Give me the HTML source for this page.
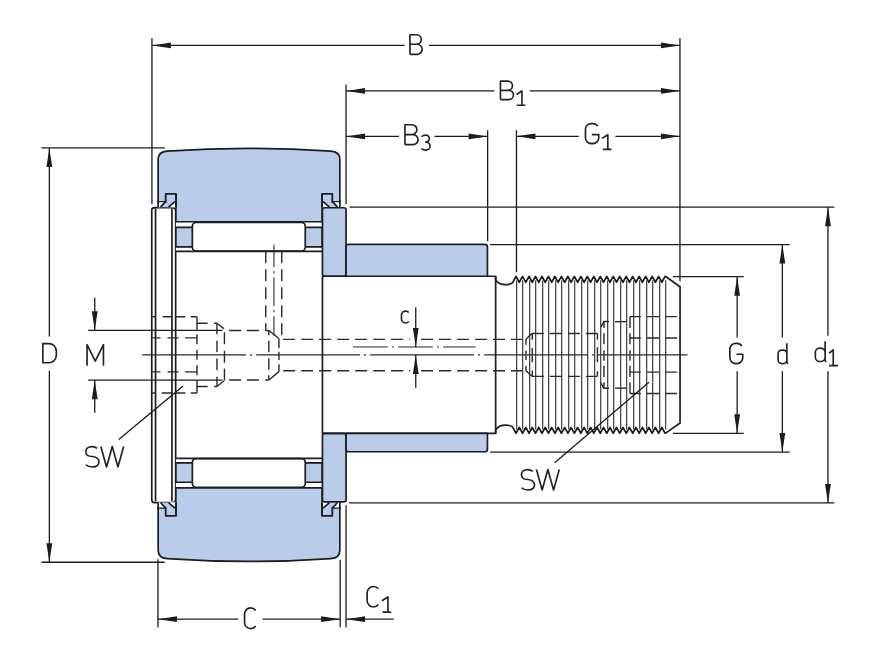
<!DOCTYPE html>
<html><head><meta charset="utf-8"><style>html,body{margin:0;padding:0;background:#fff;width:880px;height:668px;overflow:hidden}svg{display:block}</style></head>
<body>
<svg width="880" height="668" viewBox="0 0 880 668">
<style>
.o{stroke:#1a1d22;stroke-width:1.7;stroke-linejoin:round}
.dim{stroke:#1c1c1c;stroke-width:1.3}
.th{stroke:#4a4a4a;stroke-width:1.3}
.hid{stroke:#2a2a2a;stroke-width:1.4;fill:none;stroke-dasharray:12 6}
.chm{stroke:#2a2a2a;stroke-width:1.4;fill:none}
.cl{stroke:#2a2a2a;stroke-width:1.1;fill:none}
.gl path{fill:none;stroke:#222;stroke-width:1.65;stroke-linecap:butt;stroke-linejoin:round}
</style>
<rect width="880" height="668" fill="#fff"/>
<g transform="translate(0.15 0.25)">
<rect x="151.6" y="207.3" width="23.9" height="295.1" rx="2.8" ry="2.8" fill="#fff" class="o"/>
<line x1="155.4" y1="208" x2="155.4" y2="501" class="o"/>
<line x1="171.8" y1="208" x2="171.8" y2="501" class="o"/>
<g><rect x="175.7" y="222.3" width="146.3" height="28.8" fill="#fff" stroke="none"/>
<rect x="175.7" y="227.2" width="146.3" height="19.4" fill="#b9cce9" class="o"/>
<rect x="192.2" y="222.2" width="112.9" height="28.7" rx="3.8" ry="3.8" fill="#fff" class="o"/>
<line x1="175.4" y1="251.1" x2="322" y2="251.1" class="o"/>
<path class="o" fill="#b9cce9" d="M158,201.9 L158,159.5 C158,153.5 161,151.2 167,150.9 Q248.85,145.2 330.7,150.9 C336.7,151.2 339.7,153.5 339.7,159.5 L339.7,201.9 L332.1,201.9 L332.1,193.7 L322,193.7 L322,221.5 L175.7,221.5 L175.7,193.7 L165.6,193.7 L165.6,201.9 Z"/>
<path fill="#b9cce9" stroke="none" d="M322,193.7 L332.1,193.7 L332.1,201.9 L339.7,201.9 L339.7,207 L322,207 Z M175.7,193.7 L165.6,193.7 L165.6,201.9 L158,201.9 L158,207 L175.7,207 Z"/>
<path class="o" fill="none" d="M322,207 L322,193.7 L332.1,193.7 L332.1,201.9 L339.7,201.9 M175.7,207 L175.7,193.7 L165.6,193.7 L165.6,201.9 L158,201.9"/>
<path fill="#fff" stroke="none" d="M322,201.9 L323.6,201.9 L329.3,206.9 L322,206.9 Z M332.9,201.9 L339.7,201.9 L339.7,206.9 L337.3,206.9 Z"/>
<path class="o" fill="none" d="M322,201.9 L323.6,201.9 L329.3,206.9 M332.1,201.9 L332.9,201.9 L337.3,206.9 M322,193.7 L322,207 M339.7,200 L339.7,207"/>
<path fill="#fff" stroke="none" d="M175.7,201.9 L174.1,201.9 L168.4,206.9 L175.7,206.9 Z M164.8,201.9 L158,201.9 L158,206.9 L160.4,206.9 Z"/>
<path class="o" fill="none" d="M175.7,201.9 L174.1,201.9 L168.4,206.9 M165.6,201.9 L164.8,201.9 L160.4,206.9 M175.7,193.7 L175.7,207 M158,200 L158,207"/>
<rect x="322.3" y="207.5" width="23.6" height="68.5" rx="2.2" ry="2.2" fill="#b9cce9" class="o"/>
<path class="o" fill="none" d="M322,276 L495.5,276 L495.5,279.7 Q499,284.6 505.7,284.4 Q510.5,284.2 512.5,282.4 L515.9,276.2 L519.14,282 L522.38,276.2 L525.62,282 L528.86,276.2 L532.10,282 L535.34,276.2 L538.58,282 L541.82,276.2 L545.06,282 L548.30,276.2 L551.54,282 L554.78,276.2 L558.02,282 L561.26,276.2 L564.50,282 L567.74,276.2 L570.98,282 L574.22,276.2 L577.46,282 L580.70,276.2 L583.94,282 L587.18,276.2 L590.42,282 L593.66,276.2 L596.90,282 L600.14,276.2 L603.38,282 L606.62,276.2 L609.86,282 L613.10,276.2 L616.34,282 L619.58,276.2 L622.82,282 L626.06,276.2 L629.30,282 L632.54,276.2 L635.78,282 L639.02,276.2 L642.26,282 L645.50,276.2 L648.74,282 L651.98,276.2 L655.22,282 L658.46,276.2 L661.70,282 L664.94,276.2 L665.5,276.3 L679.9,286.5 L679.9,354.6"/></g>
<g transform="matrix(1 0 0 -1 0 709.2)"><rect x="175.7" y="222.3" width="146.3" height="28.8" fill="#fff" stroke="none"/>
<rect x="175.7" y="227.2" width="146.3" height="19.4" fill="#b9cce9" class="o"/>
<rect x="192.2" y="222.2" width="112.9" height="28.7" rx="3.8" ry="3.8" fill="#fff" class="o"/>
<line x1="175.4" y1="251.1" x2="322" y2="251.1" class="o"/>
<path class="o" fill="#b9cce9" d="M158,201.9 L158,159.5 C158,153.5 161,151.2 167,150.9 Q248.85,145.2 330.7,150.9 C336.7,151.2 339.7,153.5 339.7,159.5 L339.7,201.9 L332.1,201.9 L332.1,193.7 L322,193.7 L322,221.5 L175.7,221.5 L175.7,193.7 L165.6,193.7 L165.6,201.9 Z"/>
<path fill="#b9cce9" stroke="none" d="M322,193.7 L332.1,193.7 L332.1,201.9 L339.7,201.9 L339.7,207 L322,207 Z M175.7,193.7 L165.6,193.7 L165.6,201.9 L158,201.9 L158,207 L175.7,207 Z"/>
<path class="o" fill="none" d="M322,207 L322,193.7 L332.1,193.7 L332.1,201.9 L339.7,201.9 M175.7,207 L175.7,193.7 L165.6,193.7 L165.6,201.9 L158,201.9"/>
<path fill="#fff" stroke="none" d="M322,201.9 L323.6,201.9 L329.3,206.9 L322,206.9 Z M332.9,201.9 L339.7,201.9 L339.7,206.9 L337.3,206.9 Z"/>
<path class="o" fill="none" d="M322,201.9 L323.6,201.9 L329.3,206.9 M332.1,201.9 L332.9,201.9 L337.3,206.9 M322,193.7 L322,207 M339.7,200 L339.7,207"/>
<path fill="#fff" stroke="none" d="M175.7,201.9 L174.1,201.9 L168.4,206.9 L175.7,206.9 Z M164.8,201.9 L158,201.9 L158,206.9 L160.4,206.9 Z"/>
<path class="o" fill="none" d="M175.7,201.9 L174.1,201.9 L168.4,206.9 M165.6,201.9 L164.8,201.9 L160.4,206.9 M175.7,193.7 L175.7,207 M158,200 L158,207"/>
<rect x="322.3" y="207.5" width="23.6" height="68.5" rx="2.2" ry="2.2" fill="#b9cce9" class="o"/>
<path class="o" fill="none" d="M322,276 L495.5,276 L495.5,279.7 Q499,284.6 505.7,284.4 Q510.5,284.2 512.5,282.4 L515.9,276.2 L519.14,282 L522.38,276.2 L525.62,282 L528.86,276.2 L532.10,282 L535.34,276.2 L538.58,282 L541.82,276.2 L545.06,282 L548.30,276.2 L551.54,282 L554.78,276.2 L558.02,282 L561.26,276.2 L564.50,282 L567.74,276.2 L570.98,282 L574.22,276.2 L577.46,282 L580.70,276.2 L583.94,282 L587.18,276.2 L590.42,282 L593.66,276.2 L596.90,282 L600.14,276.2 L603.38,282 L606.62,276.2 L609.86,282 L613.10,276.2 L616.34,282 L619.58,276.2 L622.82,282 L626.06,276.2 L629.30,282 L632.54,276.2 L635.78,282 L639.02,276.2 L642.26,282 L645.50,276.2 L648.74,282 L651.98,276.2 L655.22,282 L658.46,276.2 L661.70,282 L664.94,276.2 L665.5,276.3 L679.9,286.5 L679.9,354.6"/></g>
<path class="o" fill="#b9cce9" d="M345.9,276 L345.9,246.4 Q345.9,244.2 348.1,244.2 L484.8,244.2 Q487.3,244.2 487.3,246.7 L487.3,276 Z"/>
<path class="o" fill="#b9cce9" d="M345.9,433.2 L345.9,449.2 Q345.9,451.5 348.1,451.5 L484.5,451.5 Q487.3,451.5 487.3,448.7 L487.3,433.2 Z"/>
<line x1="322.3" y1="276" x2="322.3" y2="433.2" class="o"/>
<line x1="495.5" y1="276" x2="495.5" y2="433.2" class="o"/>
<line x1="516.50" y1="280" x2="516.50" y2="429.2" class="th"/>
<line x1="522.50" y1="280" x2="522.50" y2="429.2" class="th"/>
<line x1="529.50" y1="280" x2="529.50" y2="429.2" class="th"/>
<line x1="535.50" y1="280" x2="535.50" y2="429.2" class="th"/>
<line x1="542.50" y1="280" x2="542.50" y2="429.2" class="th"/>
<line x1="548.50" y1="280" x2="548.50" y2="429.2" class="th"/>
<line x1="555.50" y1="280" x2="555.50" y2="429.2" class="th"/>
<line x1="561.50" y1="280" x2="561.50" y2="429.2" class="th"/>
<line x1="568.50" y1="280" x2="568.50" y2="429.2" class="th"/>
<line x1="574.50" y1="280" x2="574.50" y2="429.2" class="th"/>
<line x1="581.50" y1="280" x2="581.50" y2="429.2" class="th"/>
<line x1="587.50" y1="280" x2="587.50" y2="429.2" class="th"/>
<line x1="594.50" y1="280" x2="594.50" y2="429.2" class="th"/>
<line x1="600.50" y1="280" x2="600.50" y2="429.2" class="th"/>
<line x1="607.50" y1="280" x2="607.50" y2="429.2" class="th"/>
<line x1="613.50" y1="280" x2="613.50" y2="429.2" class="th"/>
<line x1="620.50" y1="280" x2="620.50" y2="429.2" class="th"/>
<line x1="626.50" y1="280" x2="626.50" y2="429.2" class="th"/>
<line x1="633.50" y1="280" x2="633.50" y2="429.2" class="th"/>
<line x1="639.50" y1="280" x2="639.50" y2="429.2" class="th"/>
<line x1="646.50" y1="280" x2="646.50" y2="429.2" class="th"/>
<line x1="652.50" y1="280" x2="652.50" y2="429.2" class="th"/>
<line x1="659.50" y1="280" x2="659.50" y2="429.2" class="th"/>
<line x1="665.50" y1="280" x2="665.50" y2="429.2" class="th"/>
<path class="chm" d="M152,316.5 L155.5,316.5 M162.5,316.5 L172,316.5 M175.3,316.5 L185.3,316.5 M190.7,316.5 L196.8,316.5 M152,392.7 L155.5,392.7 M161.6,392.7 L172,392.7 M175.3,392.7 L185.3,392.7 M190.7,392.7 L196.8,392.7 M152,337.6 L160.3,337.6 M167.3,337.6 L178.5,337.6 M184.8,337.6 L196.8,337.6 M152,371.6 L160.3,371.6 M167.3,371.6 L178.5,371.6 M184.8,371.6 L196.8,371.6 M196.8,316.5 L196.8,329.5 M196.8,334.1 L196.8,344.1 M196.8,349.8 L196.8,359.4 M196.8,365.1 L196.8,375.1 M196.8,379.7 L196.8,392.7 M196.8,323 L207.5,323 M213.9,323 L216.8,323 M196.8,386.2 L207.5,386.2 M213.9,386.2 L216.8,386.2 M216.8,323 L216.8,334.1 M216.8,340.5 L216.8,351.8 M216.8,358.2 L216.8,370 M216.8,376.4 L216.8,386.2 M224.3,332 L224.3,344.1 M224.3,350.4 L224.3,362.5 M224.3,368.2 L224.3,380.3 M228.9,330.2 L241,330.2 M246.7,330.2 L258.8,330.2 M265.1,330.2 L268.7,330.2 M228.9,379.8 L241,379.8 M246.7,379.8 L258.8,379.8 M265.1,379.8 L268.7,379.8 M268.7,330.2 L268.7,335 M268.7,340.5 L268.7,352 M268.7,358 L268.7,369.5 M268.7,375 L268.7,379.8 M278.8,338.3 L278.8,347.8 M278.8,351.4 L278.8,359.8 M278.8,364 L278.8,371.4"/>
<path class="hid" stroke-dashoffset="16.6" d="M281.6,339.1 L410,339.1 M281.6,370.5 L410,370.5"/>
<path class="hid" d="M420.9,339.1 L522.4,339.1"/>
<path class="hid" d="M420.9,370.5 L522.4,370.5"/>
<path class="hid" d="M265.6,251.1 L265.6,330.2"/>
<path class="hid" d="M281.6,251.1 L281.6,338.9"/>
<path class="chm" d="M525.8,339 L525.8,344.6 M525.8,350.3 L525.8,359.8 M525.8,365.5 L525.8,370.4"/>
<path class="hid" d="M531.8,333.3 L597.3,333.3"/>
<path class="hid" d="M531.8,376.1 L597.3,376.1"/>
<path class="chm" d="M532.1,333.3 L532.1,339.4 M532.1,347.7 L532.1,362 M532.1,370.2 L532.1,376.1"/>
<path class="chm" d="M597.3,333.3 L597.3,339.4 M597.3,347 L597.3,362.1 M597.3,370.9 L597.3,376.1"/>
<path class="chm" d="M603.8,321.3 L603.8,327.7 M603.8,332.9 L603.8,344 M603.8,349.9 L603.8,360.4 M603.8,365.6 L603.8,376.7 M603.8,382 L603.8,388"/>
<path class="hid" d="M614.9,321.4 L626.3,321.4"/>
<path class="hid" d="M614.9,387.9 L626.3,387.9"/>
<path class="chm" d="M629.8,316.4 L629.8,327.7 M629.8,332.9 L629.8,344 M629.8,349.9 L629.8,360.4 M629.8,365.6 L629.8,376.7 M629.8,382 L629.8,393.2"/>
<path class="chm" d="M629.8,316.4 L640.5,316.4 M646.9,316.4 L659,316.4 M665.4,316.4 L676.8,316.4"/>
<path class="chm" d="M629.8,337.7 L640.5,337.7 M646.9,337.7 L659,337.7 M665.4,337.7 L676.8,337.7"/>
<path class="chm" d="M629.8,371.9 L640.5,371.9 M646.9,371.9 L659,371.9 M665.4,371.9 L676.8,371.9"/>
<path class="chm" d="M629.8,393.2 L640.5,393.2 M646.9,393.2 L659,393.2 M665.4,393.2 L676.8,393.2"/>
<path class="chm" d="M216.8,323 L223.7,328.4"/>
<path class="chm" d="M216.8,386.2 L223.7,380.8"/>
<path class="chm" d="M268.7,330.2 L278.8,338.3"/>
<path class="chm" d="M268.7,379.8 L278.8,371.4"/>
<path class="chm" d="M525.8,339 L531.8,333.3"/>
<path class="chm" d="M525.8,370.4 L531.8,376.1"/>
<path class="chm" d="M608.8,321.3 L603.8,321.3 L600.7,326.8"/>
<path class="chm" d="M608.8,388 L603.8,388 L600.7,382.6"/>
<path class="cl" d="M142,354.6 L687.4,354.6" stroke-dasharray="103.8 4.1 2 4.1"/>
<path class="cl" d="M352.8,346.8 L475.4,346.8" stroke-dasharray="34.9 4.1 2 4.1"/>
<path class="cl" d="M273.8,244.6 L273.8,335.5" stroke-dasharray="28.6 4.1 2 4.1" stroke-dashoffset="6.2"/>
<line x1="151.8" y1="38" x2="151.8" y2="204" class="dim"/>
<line x1="679.8" y1="38" x2="679.8" y2="281" class="dim"/>
<line x1="151.8" y1="45.2" x2="404.4" y2="45.2" class="dim"/>
<line x1="428.7" y1="45.2" x2="679.8" y2="45.2" class="dim"/>
<path d="M151.8,45.2 L170.80,42.30 L170.80,48.10 Z" fill="#1c1c1c" stroke="none"/>
<path d="M679.8,45.2 L660.80,48.10 L660.80,42.30 Z" fill="#1c1c1c" stroke="none"/>
<line x1="345.9" y1="84.4" x2="345.9" y2="204" class="dim"/>
<line x1="345.9" y1="505" x2="345.9" y2="627" class="dim"/>
<line x1="345.9" y1="90.7" x2="494.3" y2="90.7" class="dim"/>
<line x1="529.6" y1="90.7" x2="679.8" y2="90.7" class="dim"/>
<path d="M345.9,90.7 L364.90,87.80 L364.90,93.60 Z" fill="#1c1c1c" stroke="none"/>
<path d="M679.8,90.7 L660.80,93.60 L660.80,87.80 Z" fill="#1c1c1c" stroke="none"/>
<line x1="345.9" y1="136.2" x2="398.8" y2="136.2" class="dim"/>
<line x1="434.4" y1="136.2" x2="487.5" y2="136.2" class="dim"/>
<line x1="487.5" y1="130" x2="487.5" y2="241" class="dim"/>
<path d="M345.9,136.2 L364.90,133.30 L364.90,139.10 Z" fill="#1c1c1c" stroke="none"/>
<path d="M487.5,136.2 L468.50,139.10 L468.50,133.30 Z" fill="#1c1c1c" stroke="none"/>
<line x1="516.3" y1="130" x2="516.3" y2="272" class="dim"/>
<line x1="516.3" y1="136.1" x2="578.6" y2="136.1" class="dim"/>
<line x1="615.2" y1="136.1" x2="679.8" y2="136.1" class="dim"/>
<path d="M516.3,136.1 L535.30,133.20 L535.30,139.00 Z" fill="#1c1c1c" stroke="none"/>
<path d="M679.8,136.1 L660.80,139.00 L660.80,133.20 Z" fill="#1c1c1c" stroke="none"/>
<line x1="349.4" y1="206.9" x2="834.2" y2="206.9" class="dim"/>
<line x1="348.8" y1="502.7" x2="834.2" y2="502.7" class="dim"/>
<line x1="827.8" y1="206.9" x2="827.8" y2="335.5" class="dim"/>
<line x1="827.8" y1="370.9" x2="827.8" y2="502.7" class="dim"/>
<path d="M827.8,206.9 L830.70,225.90 L824.90,225.90 Z" fill="#1c1c1c" stroke="none"/>
<path d="M827.8,502.7 L824.90,483.70 L830.70,483.70 Z" fill="#1c1c1c" stroke="none"/>
<line x1="490" y1="244.3" x2="789.6" y2="244.3" class="dim"/>
<line x1="490" y1="451.8" x2="789.6" y2="451.8" class="dim"/>
<line x1="782.2" y1="244.3" x2="782.2" y2="337.3" class="dim"/>
<line x1="782.2" y1="370.9" x2="782.2" y2="451.8" class="dim"/>
<path d="M782.2,244.3 L785.10,263.30 L779.30,263.30 Z" fill="#1c1c1c" stroke="none"/>
<path d="M782.2,451.8 L779.30,432.80 L785.10,432.80 Z" fill="#1c1c1c" stroke="none"/>
<line x1="672.7" y1="276.4" x2="743.6" y2="276.4" class="dim"/>
<line x1="672.7" y1="433.1" x2="743.6" y2="433.1" class="dim"/>
<line x1="737" y1="276.4" x2="737" y2="337.3" class="dim"/>
<line x1="737" y1="370.9" x2="737" y2="433.1" class="dim"/>
<path d="M737,276.4 L739.90,295.40 L734.10,295.40 Z" fill="#1c1c1c" stroke="none"/>
<path d="M737,433.1 L734.10,414.10 L739.90,414.10 Z" fill="#1c1c1c" stroke="none"/>
<line x1="41.2" y1="147.7" x2="164.7" y2="147.7" class="dim"/>
<line x1="41.2" y1="562" x2="164.5" y2="562" class="dim"/>
<line x1="49.2" y1="147.7" x2="49.2" y2="336.3" class="dim"/>
<line x1="49.2" y1="370.5" x2="49.2" y2="562" class="dim"/>
<path d="M49.2,147.7 L52.10,166.70 L46.30,166.70 Z" fill="#1c1c1c" stroke="none"/>
<path d="M49.2,562 L46.30,543.00 L52.10,543.00 Z" fill="#1c1c1c" stroke="none"/>
<line x1="88" y1="330.1" x2="222.4" y2="330.1" class="dim"/>
<line x1="88" y1="379.9" x2="222.4" y2="379.9" class="dim"/>
<line x1="94.6" y1="297.5" x2="94.6" y2="330.1" class="dim"/>
<line x1="94.6" y1="379.9" x2="94.6" y2="412.5" class="dim"/>
<path d="M94.6,330.1 L91.70,311.10 L97.50,311.10 Z" fill="#1c1c1c" stroke="none"/>
<path d="M94.6,379.9 L97.50,398.90 L91.70,398.90 Z" fill="#1c1c1c" stroke="none"/>
<line x1="157.8" y1="559" x2="157.8" y2="627" class="dim"/>
<line x1="340" y1="559.5" x2="340" y2="627" class="dim"/>
<line x1="157.8" y1="618.9" x2="238" y2="618.9" class="dim"/>
<line x1="262.4" y1="618.9" x2="340" y2="618.9" class="dim"/>
<path d="M157.8,618.9 L176.80,616.00 L176.80,621.80 Z" fill="#1c1c1c" stroke="none"/>
<path d="M340,618.9 L321.00,621.80 L321.00,616.00 Z" fill="#1c1c1c" stroke="none"/>
<line x1="345.9" y1="618.9" x2="393.5" y2="618.9" class="dim"/>
<path d="M345.9,618.9 L364.90,616.00 L364.90,621.80 Z" fill="#1c1c1c" stroke="none"/>
<line x1="415.6" y1="307" x2="415.6" y2="346.7" class="dim"/>
<line x1="415.6" y1="354.7" x2="415.6" y2="387.4" class="dim"/>
<path d="M415.6,346.7 L412.70,327.70 L418.50,327.70 Z" fill="#1c1c1c" stroke="none"/>
<path d="M415.6,354.7 L418.50,373.70 L412.70,373.70 Z" fill="#1c1c1c" stroke="none"/>
<line x1="182.9" y1="385.7" x2="118.6" y2="439.2" class="dim"/>
<line x1="648.8" y1="382.1" x2="554.5" y2="462.4" class="dim"/>
<g class="gl"><path d="M409.80,54.10 V34.50 H416.35 A4.75,4.75 0 0 1 416.35,44.00 H409.80 M416.95,44.00 A5.05,5.05 0 0 1 416.95,54.10 H409.80"/>
<path d="M500.30,99.30 V80.80 H507.65 A4.65,4.65 0 0 1 507.65,90.10 H500.30 M508.70,90.10 A4.60,4.60 0 0 1 508.70,99.30 H500.30"/>
<path d="M516.30,94.30 L521.80,90.70 V105.00 M516.60,105.00 H525.20"/>
<path d="M404.80,144.40 V124.50 H411.75 A4.95,4.95 0 0 1 411.75,134.40 H404.80 M412.90,134.40 A5.00,5.00 0 0 1 412.90,144.40 H404.80"/>
<path d="M421.30,136.30 C422.80,135.10 424.30,134.80 425.70,134.80 A3.50,3.50 0 0 1 425.70,141.80 H424.90 M425.85,141.80 A4.05,4.05 0 0 1 425.85,149.90 C424.30,149.90 422.80,149.60 421.30,148.40"/>
<path d="M597.64,125.90 A5.80,5.80 0 0 0 592.80,123.30 H591.10 A5.80,5.80 0 0 0 585.30,129.10 V137.60 A5.80,5.80 0 0 0 591.10,143.40 H592.80 A5.80,5.80 0 0 0 598.60,137.60 V134.30 H591.70"/>
<path d="M601.90,138.10 L607.70,134.50 V149.10 M602.70,149.10 H611.30"/>
<path d="M741.64,345.70 A5.80,5.80 0 0 0 736.80,343.10 H735.50 A5.80,5.80 0 0 0 729.70,348.90 V357.50 A5.80,5.80 0 0 0 735.50,363.30 H736.80 A5.80,5.80 0 0 0 742.60,357.50 V354.00 H736.30"/>
<path d="M786.70,343.00 V362.10 Q786.70,363.30 788.00,363.30 M786.70,353.67 A3.87,3.87 0 0 0 782.83,349.80 H781.77 A3.87,3.87 0 0 0 777.90,353.67 V359.43 A3.87,3.87 0 0 0 781.77,363.30 H782.83 A3.87,3.87 0 0 0 786.70,359.43"/>
<path d="M825.00,340.90 V360.00 Q825.00,361.20 826.30,361.20 M825.00,352.21 A4.31,4.31 0 0 0 820.69,347.90 H819.51 A4.31,4.31 0 0 0 815.20,352.21 V356.89 A4.31,4.31 0 0 0 819.51,361.20 H820.69 A4.31,4.31 0 0 0 825.00,356.89"/>
<path d="M829.00,353.00 L833.10,349.60 V365.30 M829.00,365.30 H837.90"/>
<path d="M42.70,343.30 H48.70 A7.50,7.50 0 0 1 56.20,350.80 V355.00 A7.50,7.50 0 0 1 48.70,362.50 H42.70 Z"/>
<path d="M86.90,365.40 V344.40 L95.10,360.80 L103.30,344.40 V365.40"/>
<path d="M408.64,312.30 A4.15,4.15 0 0 0 405.45,310.80 A4.15,4.15 0 0 0 401.30,314.95 V318.55 A4.15,4.15 0 0 0 405.45,322.70 A4.15,4.15 0 0 0 408.64,321.20"/>
<path d="M96.95,448.10 C95.25,446.60 93.79,446.30 91.96,446.30 C87.50,446.30 85.70,448.90 85.70,451.30 C85.70,455.09 87.70,455.89 92.22,456.29 C96.95,456.89 98.75,458.89 98.75,461.50 C98.75,464.70 96.25,466.70 92.22,466.70 C89.20,466.70 86.90,465.70 85.70,464.50"/>
<path d="M100.70,446.30 L106.40,466.70 L112.10,446.30 L117.80,466.70 L123.50,446.30"/>
<path d="M532.55,471.10 C530.85,469.60 529.39,469.30 527.56,469.30 C523.10,469.30 521.30,471.90 521.30,474.30 C521.30,478.09 523.30,478.89 527.83,479.29 C532.55,479.89 534.35,481.89 534.35,484.50 C534.35,487.70 531.85,489.70 527.83,489.70 C524.80,489.70 522.50,488.70 521.30,487.50"/>
<path d="M536.30,469.30 L542.00,489.70 L547.70,469.30 L553.40,489.70 L559.10,469.30"/>
<path d="M255.50,610.20 A6.10,6.10 0 0 0 250.50,607.60 A6.10,6.10 0 0 0 244.40,613.70 V622.20 A6.10,6.10 0 0 0 250.50,628.30 A6.10,6.10 0 0 0 255.50,625.70"/>
<path d="M378.25,588.60 A6.30,6.30 0 0 0 373.30,586.20 A6.30,6.30 0 0 0 367.00,592.50 V600.40 A6.30,6.30 0 0 0 373.30,606.70 A6.30,6.30 0 0 0 378.25,604.30"/>
<path d="M381.80,600.50 L387.80,596.70 V611.80 M382.40,611.80 H391.00"/></g>
</g>
</svg>
</body></html>
